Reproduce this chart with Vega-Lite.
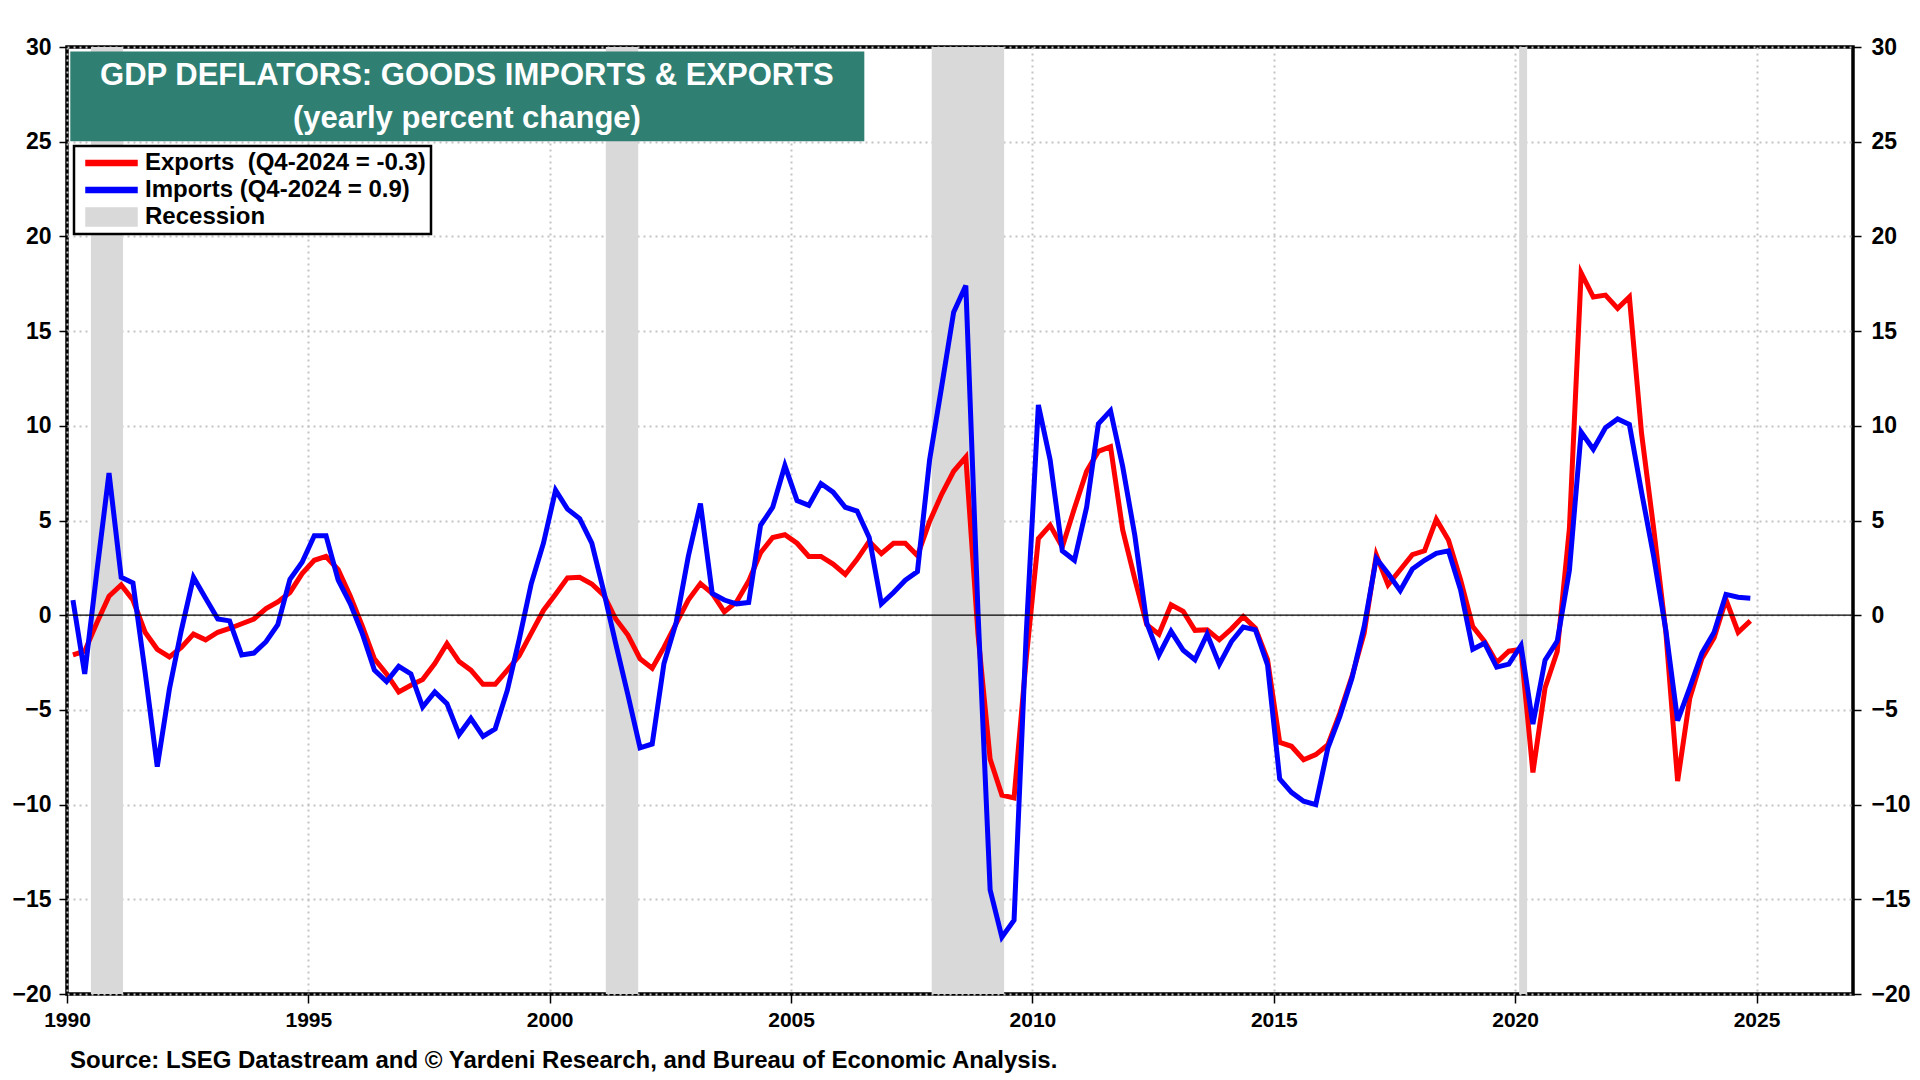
{
  "$schema": "https://vega.github.io/schema/vega-lite/v6.json",
  "autosize": {"type": "none"},
  "width": 1786,
  "height": 947,
  "padding": {"left": 67, "top": 47, "right": 67, "bottom": 86},
  "background": "white",
  "title": {
    "text": "Source: LSEG Datastream and © Yardeni Research, and Bureau of Economic Analysis.",
    "orient": "bottom",
    "anchor": "start",
    "frame": "group",
    "dx": 3,
    "offset": 19,
    "font": "Liberation Sans",
    "fontSize": 24,
    "fontWeight": "bold",
    "color": "black"
  },
  "data": {"values": [{}]},
  "datasets": {
    "deflators": [
      {"date": "1990-02-15", "Exports": -2.1, "Imports": 0.8},
      {"date": "1990-05-15", "Exports": -1.9, "Imports": -3.1},
      {"date": "1990-08-15", "Exports": -0.4, "Imports": 2.3},
      {"date": "1990-11-15", "Exports": 1.0, "Imports": 7.5},
      {"date": "1991-02-15", "Exports": 1.6, "Imports": 2.0},
      {"date": "1991-05-15", "Exports": 0.8, "Imports": 1.7},
      {"date": "1991-08-15", "Exports": -0.9, "Imports": -3.0},
      {"date": "1991-11-15", "Exports": -1.8, "Imports": -8.0},
      {"date": "1992-02-15", "Exports": -2.2, "Imports": -3.9},
      {"date": "1992-05-15", "Exports": -1.7, "Imports": -0.8},
      {"date": "1992-08-15", "Exports": -1.0, "Imports": 2.0},
      {"date": "1992-11-15", "Exports": -1.3, "Imports": 0.9},
      {"date": "1993-02-15", "Exports": -0.9, "Imports": -0.2},
      {"date": "1993-05-15", "Exports": -0.7, "Imports": -0.3},
      {"date": "1993-08-15", "Exports": -0.45, "Imports": -2.1},
      {"date": "1993-11-15", "Exports": -0.2, "Imports": -2.0},
      {"date": "1994-02-15", "Exports": 0.35, "Imports": -1.4},
      {"date": "1994-05-15", "Exports": 0.7, "Imports": -0.5},
      {"date": "1994-08-15", "Exports": 1.2, "Imports": 1.9},
      {"date": "1994-11-15", "Exports": 2.2, "Imports": 2.8},
      {"date": "1995-02-15", "Exports": 2.9, "Imports": 4.2},
      {"date": "1995-05-15", "Exports": 3.1, "Imports": 4.2},
      {"date": "1995-08-15", "Exports": 2.4, "Imports": 1.85},
      {"date": "1995-11-15", "Exports": 1.0, "Imports": 0.6},
      {"date": "1996-02-15", "Exports": -0.6, "Imports": -1.0},
      {"date": "1996-05-15", "Exports": -2.3, "Imports": -2.9},
      {"date": "1996-08-15", "Exports": -3.1, "Imports": -3.5},
      {"date": "1996-11-15", "Exports": -4.05, "Imports": -2.7},
      {"date": "1997-02-15", "Exports": -3.7, "Imports": -3.1},
      {"date": "1997-05-15", "Exports": -3.4, "Imports": -4.85},
      {"date": "1997-08-15", "Exports": -2.55, "Imports": -4.05},
      {"date": "1997-11-15", "Exports": -1.5, "Imports": -4.67},
      {"date": "1998-02-15", "Exports": -2.45, "Imports": -6.3},
      {"date": "1998-05-15", "Exports": -2.9, "Imports": -5.45},
      {"date": "1998-08-15", "Exports": -3.65, "Imports": -6.4},
      {"date": "1998-11-15", "Exports": -3.65, "Imports": -6.0},
      {"date": "1999-02-15", "Exports": -2.9, "Imports": -3.96},
      {"date": "1999-05-15", "Exports": -2.15, "Imports": -1.3},
      {"date": "1999-08-15", "Exports": -0.95, "Imports": 1.67},
      {"date": "1999-11-15", "Exports": 0.25, "Imports": 3.8},
      {"date": "2000-02-15", "Exports": 1.1, "Imports": 6.6},
      {"date": "2000-05-15", "Exports": 1.97, "Imports": 5.6},
      {"date": "2000-08-15", "Exports": 2.0, "Imports": 5.1},
      {"date": "2000-11-15", "Exports": 1.65, "Imports": 3.8},
      {"date": "2001-02-15", "Exports": 1.05, "Imports": 1.2},
      {"date": "2001-05-15", "Exports": -0.2, "Imports": -1.5},
      {"date": "2001-08-15", "Exports": -1.05, "Imports": -4.2},
      {"date": "2001-11-15", "Exports": -2.3, "Imports": -7.0},
      {"date": "2002-02-15", "Exports": -2.8, "Imports": -6.8},
      {"date": "2002-05-15", "Exports": -1.7, "Imports": -2.55},
      {"date": "2002-08-15", "Exports": -0.45, "Imports": -0.4},
      {"date": "2002-11-15", "Exports": 0.8, "Imports": 3.1},
      {"date": "2003-02-15", "Exports": 1.67, "Imports": 5.9},
      {"date": "2003-05-15", "Exports": 1.15, "Imports": 1.15},
      {"date": "2003-08-15", "Exports": 0.18, "Imports": 0.8},
      {"date": "2003-11-15", "Exports": 0.7, "Imports": 0.6},
      {"date": "2004-02-15", "Exports": 1.8, "Imports": 0.67},
      {"date": "2004-05-15", "Exports": 3.3, "Imports": 4.75},
      {"date": "2004-08-15", "Exports": 4.1, "Imports": 5.7},
      {"date": "2004-11-15", "Exports": 4.25, "Imports": 7.9},
      {"date": "2005-02-15", "Exports": 3.8, "Imports": 6.05},
      {"date": "2005-05-15", "Exports": 3.1, "Imports": 5.8},
      {"date": "2005-08-15", "Exports": 3.1, "Imports": 6.95},
      {"date": "2005-11-15", "Exports": 2.7, "Imports": 6.5},
      {"date": "2006-02-15", "Exports": 2.15, "Imports": 5.7},
      {"date": "2006-05-15", "Exports": 2.95, "Imports": 5.5},
      {"date": "2006-08-15", "Exports": 3.9, "Imports": 4.1},
      {"date": "2006-11-15", "Exports": 3.25, "Imports": 0.6},
      {"date": "2007-02-15", "Exports": 3.8, "Imports": 1.2},
      {"date": "2007-05-15", "Exports": 3.8, "Imports": 1.85},
      {"date": "2007-08-15", "Exports": 3.15, "Imports": 2.3},
      {"date": "2007-11-15", "Exports": 4.95, "Imports": 8.2},
      {"date": "2008-02-15", "Exports": 6.4, "Imports": 12.1},
      {"date": "2008-05-15", "Exports": 7.6, "Imports": 16.0},
      {"date": "2008-08-15", "Exports": 8.35, "Imports": 17.4},
      {"date": "2008-11-15", "Exports": -1.0, "Imports": 0.2},
      {"date": "2009-02-15", "Exports": -7.6, "Imports": -14.5},
      {"date": "2009-05-15", "Exports": -9.5, "Imports": -17.0},
      {"date": "2009-08-15", "Exports": -9.65, "Imports": -16.1},
      {"date": "2009-11-15", "Exports": -2.3, "Imports": -1.0},
      {"date": "2010-02-15", "Exports": 4.05, "Imports": 11.1},
      {"date": "2010-05-15", "Exports": 4.75, "Imports": 8.2},
      {"date": "2010-08-15", "Exports": 3.6, "Imports": 3.4},
      {"date": "2010-11-15", "Exports": 5.65, "Imports": 2.9},
      {"date": "2011-02-15", "Exports": 7.6, "Imports": 5.7},
      {"date": "2011-05-15", "Exports": 8.65, "Imports": 10.1},
      {"date": "2011-08-15", "Exports": 8.9, "Imports": 10.8},
      {"date": "2011-11-15", "Exports": 4.5, "Imports": 7.85},
      {"date": "2012-02-15", "Exports": 1.9, "Imports": 4.2},
      {"date": "2012-05-15", "Exports": -0.5, "Imports": -0.4},
      {"date": "2012-08-15", "Exports": -1.0, "Imports": -2.1},
      {"date": "2012-11-15", "Exports": 0.55, "Imports": -0.85},
      {"date": "2013-02-15", "Exports": 0.2, "Imports": -1.85},
      {"date": "2013-05-15", "Exports": -0.8, "Imports": -2.35},
      {"date": "2013-08-15", "Exports": -0.77, "Imports": -1.0},
      {"date": "2013-11-15", "Exports": -1.3, "Imports": -2.6},
      {"date": "2014-02-15", "Exports": -0.72, "Imports": -1.39},
      {"date": "2014-05-15", "Exports": -0.07, "Imports": -0.63},
      {"date": "2014-08-15", "Exports": -0.69, "Imports": -0.77},
      {"date": "2014-11-15", "Exports": -2.35, "Imports": -2.62},
      {"date": "2015-02-15", "Exports": -6.71, "Imports": -8.65},
      {"date": "2015-05-15", "Exports": -6.92, "Imports": -9.35},
      {"date": "2015-08-15", "Exports": -7.63, "Imports": -9.82},
      {"date": "2015-11-15", "Exports": -7.36, "Imports": -10.0},
      {"date": "2016-02-15", "Exports": -6.84, "Imports": -7.0},
      {"date": "2016-05-15", "Exports": -5.17, "Imports": -5.34},
      {"date": "2016-08-15", "Exports": -3.23, "Imports": -3.32},
      {"date": "2016-11-15", "Exports": -0.95, "Imports": -0.6},
      {"date": "2017-02-15", "Exports": 3.18, "Imports": 3.0},
      {"date": "2017-05-15", "Exports": 1.6, "Imports": 2.2},
      {"date": "2017-08-15", "Exports": 2.4, "Imports": 1.3},
      {"date": "2017-11-15", "Exports": 3.2, "Imports": 2.44},
      {"date": "2018-02-15", "Exports": 3.4, "Imports": 2.9},
      {"date": "2018-05-15", "Exports": 5.06, "Imports": 3.27},
      {"date": "2018-08-15", "Exports": 3.97, "Imports": 3.4},
      {"date": "2018-11-15", "Exports": 1.86, "Imports": 1.33},
      {"date": "2019-02-15", "Exports": -0.6, "Imports": -1.8},
      {"date": "2019-05-15", "Exports": -1.39, "Imports": -1.48},
      {"date": "2019-08-15", "Exports": -2.5, "Imports": -2.74},
      {"date": "2019-11-15", "Exports": -1.9, "Imports": -2.58},
      {"date": "2020-02-15", "Exports": -1.8, "Imports": -1.6},
      {"date": "2020-05-15", "Exports": -8.3, "Imports": -5.75},
      {"date": "2020-08-15", "Exports": -3.83, "Imports": -2.37},
      {"date": "2020-11-15", "Exports": -1.92, "Imports": -1.37},
      {"date": "2021-02-15", "Exports": 4.56, "Imports": 2.37},
      {"date": "2021-05-15", "Exports": 18.07, "Imports": 9.67},
      {"date": "2021-08-15", "Exports": 16.8, "Imports": 8.76},
      {"date": "2021-11-15", "Exports": 16.9, "Imports": 9.9},
      {"date": "2022-02-15", "Exports": 16.2, "Imports": 10.36},
      {"date": "2022-05-15", "Exports": 16.8, "Imports": 10.07},
      {"date": "2022-08-15", "Exports": 9.6, "Imports": 6.5},
      {"date": "2022-11-15", "Exports": 4.56, "Imports": 3.1},
      {"date": "2023-02-15", "Exports": -0.9, "Imports": -0.8},
      {"date": "2023-05-15", "Exports": -8.76, "Imports": -5.57},
      {"date": "2023-08-15", "Exports": -4.38, "Imports": -3.83},
      {"date": "2023-11-15", "Exports": -2.28, "Imports": -2.0},
      {"date": "2024-02-15", "Exports": -1.19, "Imports": -0.9},
      {"date": "2024-05-15", "Exports": 0.82, "Imports": 1.1},
      {"date": "2024-08-15", "Exports": -0.9, "Imports": 0.95},
      {"date": "2024-11-15", "Exports": -0.3, "Imports": 0.9}
    ],
    "recessions": [
      {"start": "1990-07-01", "end": "1991-03-01"},
      {"start": "2001-03-01", "end": "2001-11-01"},
      {"start": "2007-12-01", "end": "2009-06-01"},
      {"start": "2020-02-01", "end": "2020-04-01"}
    ]
  },
  "resolve": {"axis": {"y": "independent"}},
  "layer": [
    {
      "data": {"name": "recessions"},
      "mark": {"type": "rect"},
      "encoding": {
        "x": {"field": "start", "type": "temporal",
              "scale": {"type": "utc", "domain": [{"year": 1990, "month": 1, "date": 1, "utc": true}, {"year": 2027, "month": 1, "date": 1, "utc": true}]}},
        "x2": {"field": "end"},
        "color": {"datum": "Recession"}
      }
    },
    {
      "data": {"name": "deflators"},
      "transform": [{"fold": ["Exports", "Imports"], "as": ["series", "value"]}],
      "mark": {"type": "line", "strokeWidth": 5, "strokeJoin": "miter"},
      "encoding": {
        "x": {
          "field": "date", "type": "temporal",
          "axis": {
            "values": [
              {"year": 1990, "month": 1, "date": 1, "utc": true},
              {"year": 1995, "month": 1, "date": 1, "utc": true},
              {"year": 2000, "month": 1, "date": 1, "utc": true},
              {"year": 2005, "month": 1, "date": 1, "utc": true},
              {"year": 2010, "month": 1, "date": 1, "utc": true},
              {"year": 2015, "month": 1, "date": 1, "utc": true},
              {"year": 2020, "month": 1, "date": 1, "utc": true},
              {"year": 2025, "month": 1, "date": 1, "utc": true}
            ],
            "format": "%Y",
            "labelFlush": false,
            "labelFontSize": 21,
            "tickSize": 9,
            "labelPadding": 6
          }
        },
        "y": {
          "field": "value", "type": "quantitative",
          "scale": {"domain": [-20, 30], "nice": false, "zero": false},
          "axis": {"orient": "left", "values": [-20, -15, -10, -5, 0, 5, 10, 15, 20, 25, 30], "tickSize": 8, "labelPadding": 8}
        },
        "color": {
          "field": "series", "type": "nominal",
          "scale": {"domain": ["Exports", "Imports", "Recession"], "range": ["#ff0000", "#0000ff", "#d9d9d9"]},
          "legend": {
            "orient": "none",
            "legendX": 7,
            "legendY": 99,
            "title": null,
            "padding": 5,
            "rowPadding": 3,
            "labelFont": "Liberation Sans",
            "labelFontSize": 24,
            "labelFontWeight": "bold",
            "labelColor": "black",
            "labelOffset": 42,
            "labelLimit": 500,
            "symbolSize": 100,
            "symbolType": "M-1,-0.5H9.2V0.5H-1Z",
            "strokeColor": "black",
            "fillColor": "white",
            "labelExpr": "datum.value == 'Exports' ? 'Exports\u00a0 (Q4-2024 = -0.3)\u00a0\u00a0\u00a0\u00a0\u00a0' : datum.value == 'Imports' ? 'Imports (Q4-2024 = 0.9)' : 'Recession'",
            "encode": {
              "legend": {"update": {"strokeWidth": {"value": 2.5}}},
              "symbols": {
                "update": {
                  "shape": {"signal": "datum.value === 'Recession' ? 'M-1,-1.8H9.2V1.8H-1Z' : 'M-1,-0.5H9.2V0.5H-1Z'"},
                  "fill": {"scale": "color", "field": "value"},
                  "stroke": {"value": "transparent"},
                  "opacity": {"value": 1}
                }
              }
            }
          }
        }
      }
    },
    {
      "mark": {"type": "rule", "color": "black", "strokeWidth": 1.3},
      "encoding": {
        "y": {
          "datum": 0, "type": "quantitative",
          "axis": {"orient": "right", "grid": false, "values": [-20, -15, -10, -5, 0, 5, 10, 15, 20, 25, 30], "tickSize": 8, "labelPadding": 10, "labelAlign": "left"}
        }
      }
    },
    {
      "mark": {"type": "rect", "color": "#2f7f73"},
      "encoding": {
        "x": {"datum": {"year": 1990, "month": 1, "date": 26, "utc": true}, "type": "temporal"},
        "x2": {"datum": {"year": 2006, "month": 7, "date": 9, "utc": true}},
        "y": {"datum": 29.76, "type": "quantitative", "axis": null},
        "y2": {"datum": 25.02}
      }
    },
    {
      "mark": {"type": "text", "color": "white", "font": "Liberation Sans", "fontSize": 31, "fontWeight": "bold", "align": "center", "baseline": "middle"},
      "encoding": {
        "x": {"datum": {"year": 1998, "month": 4, "date": 15, "utc": true}, "type": "temporal"},
        "y": {"datum": 28.45, "type": "quantitative", "axis": null},
        "text": {"value": "GDP DEFLATORS: GOODS IMPORTS & EXPORTS"}
      }
    },
    {
      "mark": {"type": "text", "color": "white", "font": "Liberation Sans", "fontSize": 31, "fontWeight": "bold", "align": "center", "baseline": "middle"},
      "encoding": {
        "x": {"datum": {"year": 1998, "month": 4, "date": 15, "utc": true}, "type": "temporal"},
        "y": {"datum": 26.2, "type": "quantitative", "axis": null},
        "text": {"value": "(yearly percent change)"}
      }
    }
  ],
  "config": {
    "view": {"stroke": "black", "strokeWidth": 3.5},
    "axis": {
      "labelFont": "Liberation Sans",
      "labelFontSize": 23,
      "labelFontWeight": "bold",
      "labelColor": "black",
      "tickColor": "black",
      "tickWidth": 1.5,
      "domain": false,
      "title": null,
      "grid": true,
      "gridColor": "#c4c4c4",
      "gridDash": [2, 4],
      "gridWidth": 2
    }
  }
}
